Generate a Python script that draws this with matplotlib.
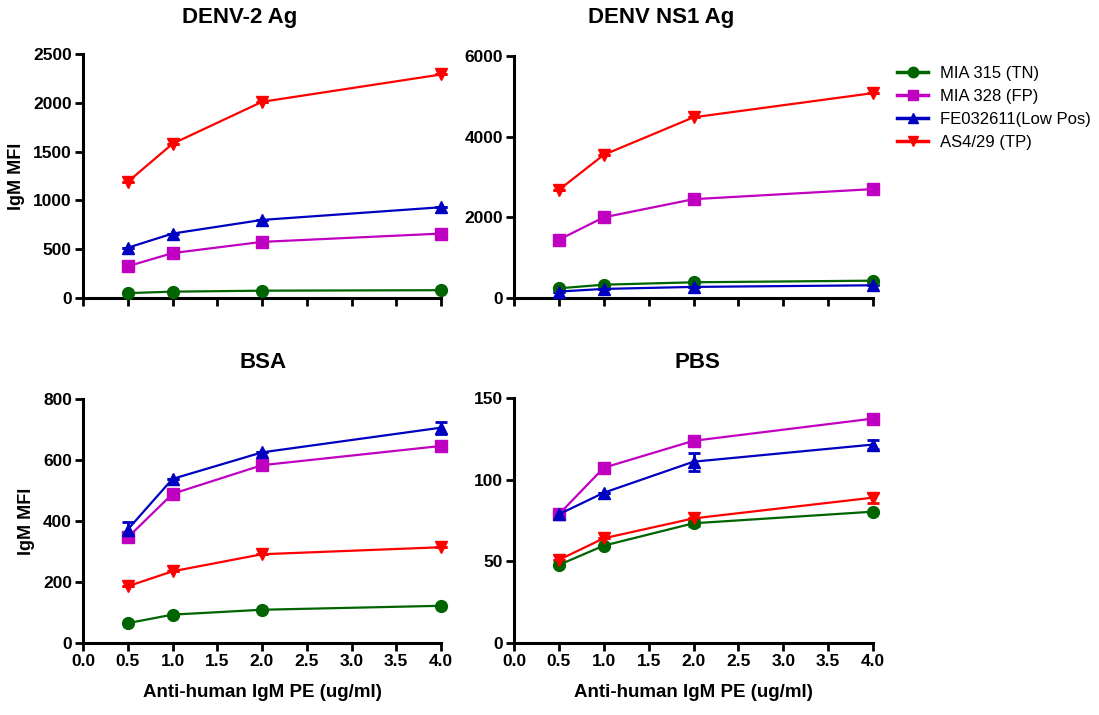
import matplotlib
matplotlib.use("Agg")
import matplotlib.pyplot as plt
from matplotlib.lines import Line2D

plt.rcParams['font.family'] = ['Liberation Sans', 'DejaVu Sans']

conc = [0.5, 1.0, 2.0, 4.0]
series_names = ["MIA 315 (TN)", "MIA 328 (FP)", "FE032611(Low Pos)", "AS4/29 (TP)"]
colors = ["#006400", "#C000C0", "#0000C0", "#FF0000"]
markers = ["o", "s", "^", "v"]

# DENV-2 Ag
denv2_tn = [50, 65, 75, 80]
denv2_fp = [325, 460, 575, 660]
denv2_lp = [515, 660, 800, 930]
denv2_tp = [1190, 1580, 2010, 2290]

# DENV NS1 Ag
ns1_tn = [240, 330, 390, 430]
ns1_fp = [1445, 2000, 2450, 2700]
ns1_lp = [160, 225, 275, 315]
ns1_tp = [2680, 3550, 4480, 5080]

# BSA
bsa_tn = [65, 93, 109, 122]
bsa_fp = [346, 489, 583, 646]
bsa_lp = [372, 538, 625, 706]
bsa_tp = [186, 235, 291, 314]
bsa_fp_err = [8, 0, 8, 15]
bsa_lp_err = [25, 0, 0, 20]

# PBS
pbs_tn = [47.8, 59.6, 73.3, 80.4]
pbs_fp = [78.8, 107.3, 123.8, 137.4]
pbs_lp = [78.8, 92.0, 111.0, 121.5]
pbs_tp = [50.9, 64.1, 76.3, 89.0]
pbs_tn_err = [0, 0, 1.5, 0]
pbs_fp_err = [0, 0, 0, 2]
pbs_lp_err = [0, 0, 5.5, 3]
pbs_tp_err = [0, 0, 0, 3]

zero = [0, 0, 0, 0]

panels = [
    dict(title="DENV-2 Ag", data=[denv2_tn, denv2_fp, denv2_lp, denv2_tp],
         err=[zero, zero, zero, zero], yticks=[0, 500, 1000, 1500, 2000, 2500],
         ylim=2500, pos=[83, 54, 441, 298], xlab=False, ylab=True, tx=240, ty=17),
    dict(title="DENV NS1 Ag", data=[ns1_tn, ns1_fp, ns1_lp, ns1_tp],
         err=[zero, zero, zero, zero], yticks=[0, 2000, 4000, 6000],
         ylim=6000, pos=[514, 56, 873, 298], xlab=False, ylab=False, tx=661, ty=17),
    dict(title="BSA", data=[bsa_tn, bsa_fp, bsa_lp, bsa_tp],
         err=[zero, bsa_fp_err, bsa_lp_err, zero], yticks=[0, 200, 400, 600, 800],
         ylim=800, pos=[83, 399, 441, 643], xlab=True, ylab=True, tx=263, ty=362),
    dict(title="PBS", data=[pbs_tn, pbs_fp, pbs_lp, pbs_tp],
         err=[pbs_tn_err, pbs_fp_err, pbs_lp_err, pbs_tp_err], yticks=[0, 50, 100, 150],
         ylim=150, pos=[514, 398, 873, 643], xlab=True, ylab=False, tx=697, ty=362),
]

W, H = 1099, 715
fig = plt.figure(figsize=(W / 100, H / 100), dpi=100)

for p in panels:
    x0, y0, x1, y1 = p["pos"]
    ax = fig.add_axes([x0 / W, 1 - y1 / H, (x1 - x0) / W, (y1 - y0) / H])
    for vals, err, c, m in zip(p["data"], p["err"], colors, markers):
        ax.errorbar(conc, vals, yerr=err, color=c, marker=m, markersize=8.5,
                    linewidth=1.6, elinewidth=2, capsize=4.5, capthick=2,
                    clip_on=False, zorder=3)
    ax.set_xlim(0, 4.0)
    ax.set_ylim(0, p["ylim"])
    ax.set_xticks([0, 0.5, 1.0, 1.5, 2.0, 2.5, 3.0, 3.5, 4.0])
    ax.set_yticks(p["yticks"])
    for s in ["top", "right"]:
        ax.spines[s].set_visible(False)
    for s in ["left", "bottom"]:
        ax.spines[s].set_linewidth(2.2)
    ax.tick_params(direction="out", length=6, width=2, labelsize=12.5, pad=2)
    for lab in ax.get_xticklabels() + ax.get_yticklabels():
        lab.set_fontweight("bold")
    if p["xlab"]:
        ax.set_xticklabels(["0.0", "0.5", "1.0", "1.5", "2.0", "2.5", "3.0", "3.5", "4.0"],
                           fontweight="bold")
        ax.set_xlabel("Anti-human IgM PE (ug/ml)", fontsize=13.5, fontweight="bold", labelpad=11)
    else:
        ax.set_xticklabels([])
    if p["ylab"]:
        ax.set_ylabel("IgM MFI", fontsize=13, fontweight="bold", labelpad=6)
    fig.text(p["tx"] / W, 1 - p["ty"] / H, p["title"], fontsize=16, fontweight="bold",
             ha="center", va="center")

handles = [Line2D([0], [0], color=c, marker=m, markersize=7.5, linewidth=2.5)
           for c, m in zip(colors, markers)]
fig.legend(handles, series_names, loc="upper left", bbox_to_anchor=(890 / W, 1 - 59 / H),
           frameon=False, fontsize=12, handlelength=1.9, handletextpad=0.7,
           labelspacing=0.48, borderaxespad=0)

fig.savefig("out.png", dpi=100)
